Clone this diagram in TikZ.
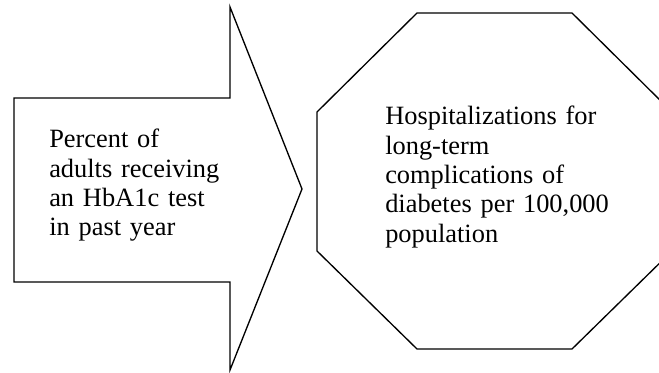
\documentclass[tikz,border=0pt]{standalone}
\usepackage{fontspec}
\setmainfont{Liberation Serif}
\begin{document}
\begin{tikzpicture}[x=0.75pt,y=-0.75pt,
  shapeline/.style={draw=black,line width=1pt,line join=miter},
  label/.style={anchor=base west,inner sep=0pt,align=left,
    font=\fontsize{19.8}{22}\selectfont}]
\useasboundingbox (0,0) rectangle (659,373);
\clip (0,0) rectangle (659,373);
% block arrow
\draw[shapeline] (14,98) -- (230,98) -- (230,7) -- (302,189) -- (230,370)
  -- (230,282) -- (14,282) -- cycle;
% octagon (clipped at right edge)
\draw[shapeline] (417,13) -- (572,13) -- (672,112) -- (672,251) -- (572,349)
  -- (417,349) -- (317,251) -- (317,112) -- cycle;
\node[label,text width=170pt] (arrowtext) at (49,148)
  {Percent of\\adults receiving\\an HbA1c test\\in past year};
\node[label,text width=200pt] (octtext) at (385,125)
  {Hospitalizations for\\long-term\\complications of\\diabetes per 100,000\\population};
\end{tikzpicture}
\end{document}
